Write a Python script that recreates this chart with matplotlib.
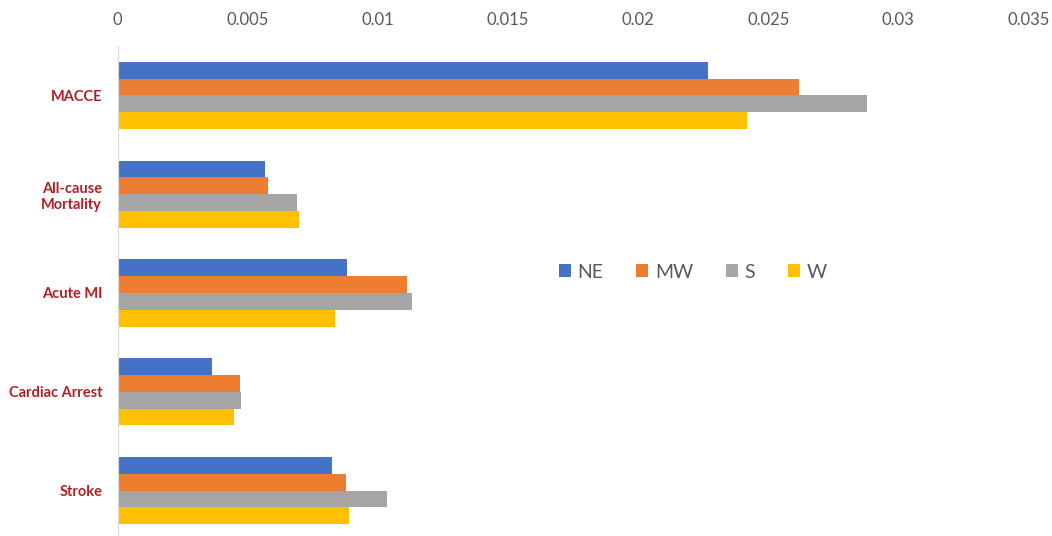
import numpy as np
import matplotlib.pyplot as plt

plt.rcParams['font.family'] = ['Lato', 'DejaVu Sans']

categories = ['MACCE', 'All-cause\nMortality', 'Acute MI', 'Cardiac Arrest', 'Stroke']
regions = ['NE', 'MW', 'S', 'W']
ne = [0.0227, 0.00565, 0.00880, 0.00362, 0.00825]
mw = [0.0262, 0.00580, 0.01112, 0.00469, 0.00877]
s = [0.0288, 0.00688, 0.01130, 0.00473, 0.01035]
w = [0.0242, 0.00696, 0.00835, 0.00446, 0.00888]
colors = ['#4472C4', '#ED7D31', '#A5A5A5', '#FFC000']

fig = plt.figure(figsize=(10.52, 5.36), dpi=100)
ax = fig.add_axes([117.5 / 1052, -4 / 536, (1028.5 - 117.5) / 1052, 494 / 536])

y = np.arange(len(categories))
h = 0.17
for k, (vals, name) in enumerate(zip([ne, mw, s, w], regions)):
    ax.barh(y + (k - 1.5) * h, vals, height=h, color=colors[k], label=name)

ax.set_xlim(0, 0.035)
ax.set_ylim(len(categories) - 0.5, -0.5)
ax.set_xticks(np.arange(0, 0.0351, 0.005))
ax.set_xticklabels(['0', '0.005', '0.01', '0.015', '0.02', '0.025', '0.03', '0.035'])
ax.xaxis.tick_top()
ax.tick_params(axis='x', length=0, pad=13, labelsize=12, labelcolor='#595959')
ax.set_yticks(y)
ax.set_yticklabels(categories, fontweight='bold', color='#B21F24', fontsize=10.5)
ax.tick_params(axis='y', length=0, pad=11)
for lab in ax.get_yticklabels():
    lab.set_horizontalalignment('right')
    lab.set_multialignment('center')

for side in ['top', 'right', 'bottom']:
    ax.spines[side].set_visible(False)
ax.spines['left'].set_color('#D9D9D9')

ax.legend(loc='center', bbox_to_anchor=(693 / 1052, 1 - 272 / 536),
          bbox_transform=fig.transFigure, ncol=4, frameon=False,
          fontsize=14, labelcolor='#595959', handlelength=0.6, handleheight=0.6,
          handletextpad=0.35, columnspacing=1.7)

fig.savefig('out.png', dpi=100)
